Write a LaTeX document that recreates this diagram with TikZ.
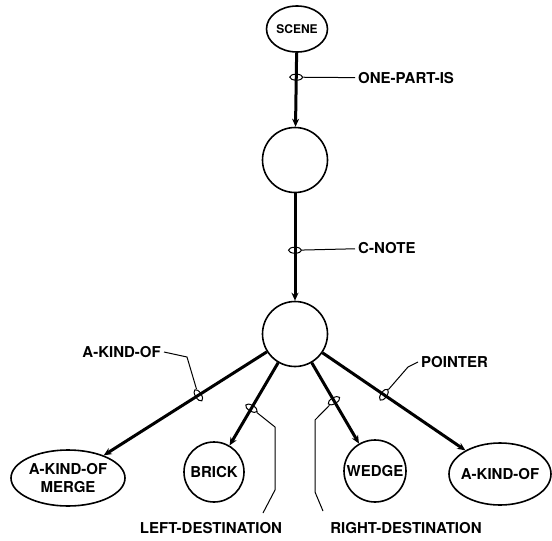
\documentclass[tikz,border=0pt]{standalone}
\usepackage{fontspec}
\setmainfont{TeX Gyre Heros}
\usetikzlibrary{arrows.meta, shapes.geometric}

\begin{document}
\begin{tikzpicture}[x=1pt, y=-1pt, >={Stealth[length=8pt, width=7pt]},
    font=\bfseries\fontsize{15}{18}\selectfont,
    frame/.style={draw, circle, line width=1.6pt, minimum size=65pt, inner sep=0pt},
    oval/.style={draw, ellipse, line width=1.6pt, inner sep=0pt, align=center},
    link/.style={->, line width=3pt},
    ring/.style={draw, ellipse, line width=1pt, minimum width=6pt, minimum height=13pt, inner sep=0pt, sloped},
    tag/.style={inner sep=3pt},
    lead/.style={line width=1pt}]
  \useasboundingbox (0,0) rectangle (552,541);

  \node[oval, minimum width=61pt, minimum height=46pt, font=\bfseries\fontsize{12}{14}\selectfont] (scene) at (297,29) {SCENE};
  \node[frame] (part) at (295,160) {};
  \node[frame] (note) at (295,334) {};
  \node[oval, minimum width=114pt, minimum height=56pt] (merge) at (68,478) {A-KIND-OF\\MERGE};
  \node[frame, minimum size=60pt] (brick) at (214,472) {BRICK};
  \node[frame, minimum size=62pt] (wedge) at (375,471) {WEDGE};
  \node[oval, minimum width=102pt, minimum height=62pt] (kind) at (500,474) {\makebox[60pt]{A-KIND-OF}};

  \path (scene) edge[link] node[ring, pos=.33] (r1) {} (part)
        (part) edge[link] node[ring, pos=.53] (r2) {} (note)
        (note) edge[link] node[ring, pos=.42] (r3) {} (merge)
        (note) edge[link] node[ring, pos=.55] (r4) {} (brick)
        (note) edge[link] node[ring, pos=.47] (r5) {} (wedge)
        (note) edge[link] node[ring, pos=.43] (r6) {} (kind);

  % names of the links
  \node[tag, anchor=west] (ispart) at (355,78) {ONE-PART-IS};
  \node[tag, anchor=west] (cnote) at (355,248) {C-NOTE};
  \node[tag, anchor=east] (kindof) at (164,352) {A-KIND-OF};
  \node[tag, anchor=west] (pointer) at (418,362) {POINTER};
  \node[tag] (leftdest) at (211,528) {LEFT-DESTINATION};
  \node[tag] (rightdest) at (406,528) {RIGHT-DESTINATION};
  \coordinate (lefttip) at (263,513);
  \coordinate (righttip) at (323,511);

  \draw[lead] (r1) -- (ispart);
  \draw[lead] (r2) -- (cnote);
  \draw[lead] (kindof.east) -- (187,357) -- (r3);
  \draw[lead] (r4) -- (275,427) -- (275,490) -- (lefttip);
  \draw[lead] (r5) -- (315,420) -- (315,492) -- (righttip);
  \draw[lead] (r6) -- (408,367) -- (pointer.west);
\end{tikzpicture}
\end{document}
